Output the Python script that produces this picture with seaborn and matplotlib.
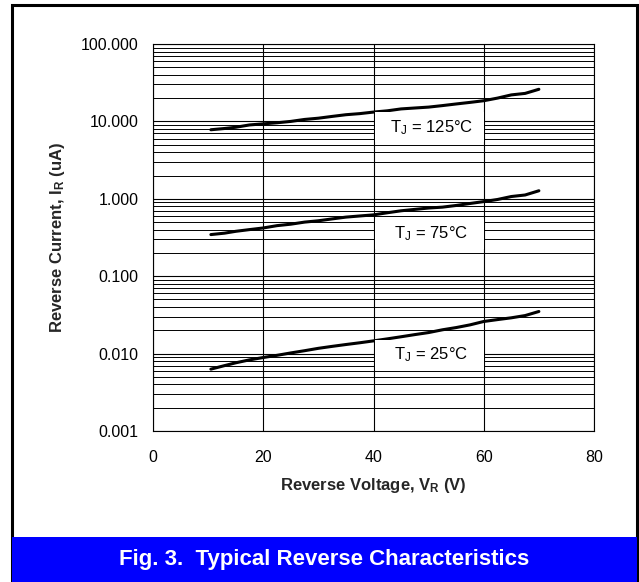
import numpy as np
import pandas as pd
import matplotlib
matplotlib.use("Agg")
import matplotlib.pyplot as plt
import matplotlib.ticker as mticker
from matplotlib.patches import Rectangle
import seaborn as sns

# ---- data ----
voltage = [10.5, 13, 15, 17.5, 20, 22.5, 25, 27.5, 30, 32.5, 35, 37.5, 40,
           42.5, 45, 47.5, 50, 52.5, 55, 57.5, 60, 62.5, 65, 67.5, 70]
i_125 = [7.8, 8.1, 8.4, 9.0, 9.3, 9.6, 10.0, 10.6, 11.0, 11.6, 12.2, 12.6, 13.2,
         13.7, 14.5, 14.9, 15.3, 16.0, 16.8, 17.6, 18.5, 20.0, 22.0, 23.0, 26.0]
i_75 = [0.345, 0.36, 0.38, 0.40, 0.42, 0.45, 0.47, 0.50, 0.52, 0.55, 0.58, 0.60, 0.62,
        0.66, 0.70, 0.73, 0.76, 0.78, 0.82, 0.87, 0.92, 0.98, 1.07, 1.12, 1.27]
i_25 = [0.0063, 0.0070, 0.0076, 0.0083, 0.0089, 0.0095, 0.0102, 0.0109, 0.0117,
        0.0124, 0.0131, 0.0138, 0.0146, 0.0155, 0.0165, 0.0176, 0.0187, 0.0203,
        0.0217, 0.0235, 0.026, 0.0275, 0.029, 0.031, 0.035]
series_names = ["125", "75", "25"]
curve_labels = ["T$_\\mathregular{J}$ = 125°C", "T$_\\mathregular{J}$ = 75°C",
                "T$_\\mathregular{J}$ = 25°C"]
label_x = [50.6, 50.4, 50.4]
label_y = [8.36, 0.352, 0.0097]
y_ticks = [0.001, 0.01, 0.1, 1, 10, 100]
x_ticks = [0, 20, 40, 60, 80]
title = "Fig. 3.  Typical Reverse Characteristics"

df = pd.DataFrame({
    "V": voltage * 3,
    "I": i_125 + i_75 + i_25,
    "T": [series_names[0]] * len(voltage) + [series_names[1]] * len(voltage)
         + [series_names[2]] * len(voltage),
})

sns.set_theme(style="white")
plt.rcParams["font.family"] = ["Liberation Sans", "DejaVu Sans"]
plt.rcParams["mathtext.default"] = "regular"

W, H = 639, 582
fig = plt.figure(figsize=(W / 100, H / 100), dpi=100)
fig.patch.set_facecolor("white")

L, R, T, B = 153, 594, 44, 431
ax = fig.add_axes([L / W, 1 - B / H, (R - L) / W, (B - T) / H])

sns.lineplot(data=df, x="V", y="I", units="T", estimator=None, sort=False,
             color="black", linewidth=2.2, ax=ax, legend=False)

ax.set_yscale("log")
ax.set_ylim(0.001, 100)
ax.set_xlim(0, 80)
ax.set_yticks(y_ticks)
ax.yaxis.set_major_formatter(mticker.FormatStrFormatter("%.3f"))
ax.yaxis.set_minor_locator(mticker.LogLocator(base=10, subs=np.arange(2, 10)))
ax.yaxis.set_minor_formatter(mticker.NullFormatter())
ax.set_xticks(x_ticks)

ax.grid(False)
ax.yaxis.grid(True, which="major", color="black", linewidth=0.8)
ax.yaxis.grid(True, which="minor", color="black", linewidth=0.7)
ax.xaxis.grid(True, which="major", color="black", linewidth=0.8)
for s in ax.spines.values():
    s.set_color("black")
    s.set_linewidth(0.8)

ax.tick_params(axis="both", which="major", direction="out", length=3.6, width=0.8,
               color="black", labelsize=11.5, labelcolor="black")
ax.tick_params(axis="y", which="major", pad=7)
ax.tick_params(axis="y", which="minor", length=0)
ax.tick_params(axis="x", which="major", pad=10)

ax.set_xlabel("Reverse Voltage, V$_\\mathregular{R}$ (V)", fontsize=12,
              fontweight="bold", labelpad=8)
ax.set_ylabel("Reverse Current, I$_\\mathregular{R}$ (uA)", fontsize=12,
              fontweight="bold", labelpad=10)

# label boxes (white, fixed size, between the 40 and 60 gridlines)
half_w = 9.9
half_dec = 0.194
for x, y, txt in zip(label_x, label_y, curve_labels):
    ax.add_patch(Rectangle((50.2 - half_w, y * 10 ** (-half_dec)), 2 * half_w,
                           y * (10 ** half_dec - 10 ** (-half_dec)),
                           facecolor="white", edgecolor="none", zorder=4))
    ax.text(x, y, txt, ha="center", va="center", fontsize=12, color="black",
            zorder=5)

# frame and banner
fig.patches.append(Rectangle((12 / W, 0), (637 - 12) / W, (582 - 5) / H,
                             transform=fig.transFigure, fill=False,
                             edgecolor="black", linewidth=2.2, zorder=0))
fig.patches.append(Rectangle((12 / W, 0), (637 - 12) / W, (582 - 537) / H,
                             transform=fig.transFigure, facecolor="#0000FF",
                             edgecolor="none", zorder=1))
fig.text((12 + 637) / 2 / W, 1 - 559.5 / H, title, ha="center", va="center",
         color="white", fontsize=16, fontweight="bold")

fig.savefig("out.png", dpi=100)
